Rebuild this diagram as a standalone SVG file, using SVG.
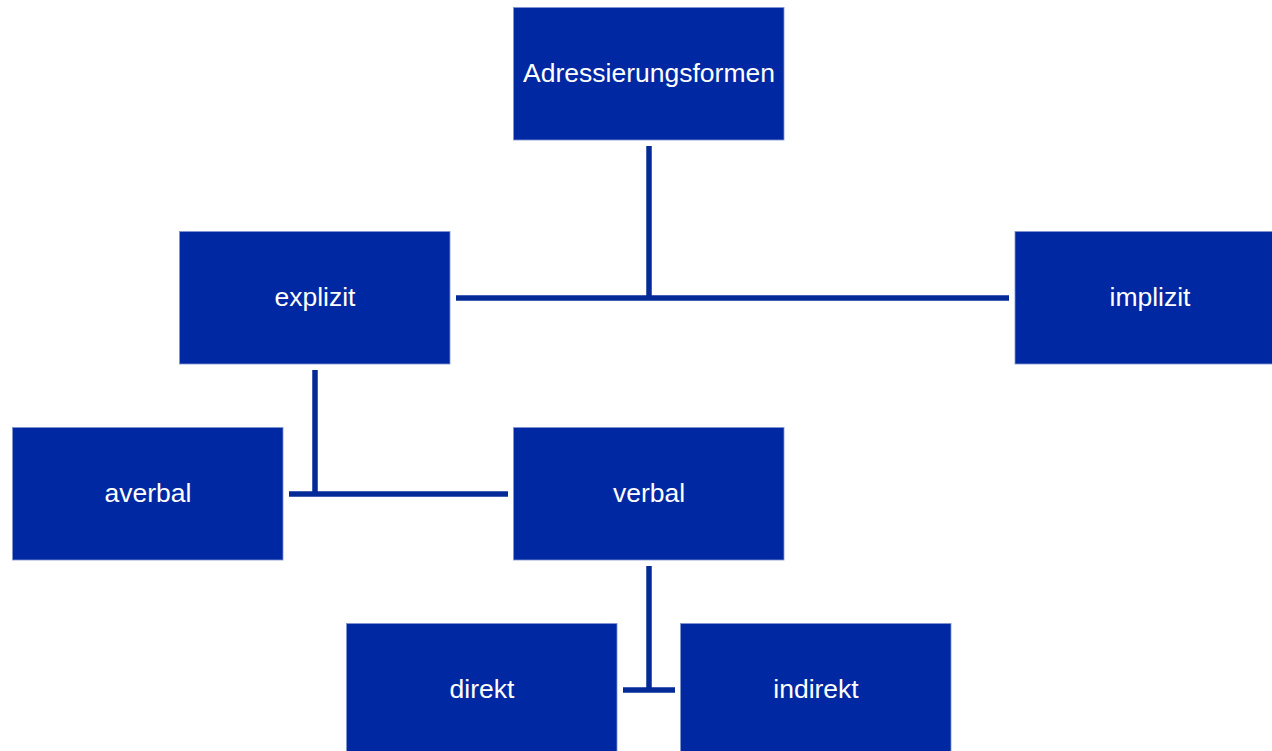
<svg xmlns="http://www.w3.org/2000/svg" width="1272" height="751" viewBox="0 0 1272 751">
<style>
.box{fill:#0028A2;stroke:#7F95D2;stroke-width:0.8}
.lbl{font-family:"Liberation Sans",Arial,sans-serif;font-size:26.5px;fill:#FFFFFF;text-anchor:middle}
.con{stroke:#032A96;stroke-width:5.5;fill:none}
</style>
<rect width="1272" height="751" fill="#FFFFFF"/>
<g id="connectors">
<line class="con" x1="649" y1="146" x2="649" y2="298"/>
<line class="con" x1="456" y1="298" x2="1009" y2="298"/>
<line class="con" x1="315" y1="370" x2="315" y2="494"/>
<line class="con" x1="289" y1="494" x2="508" y2="494"/>
<line class="con" x1="649" y1="566" x2="649" y2="690"/>
<line class="con" x1="623" y1="690" x2="675" y2="690"/>
</g>
<g id="node-adressierungsformen">
<rect class="box" x="513.5" y="7.5" width="270.5" height="132.5"/>
<text class="lbl" x="649" y="82">Adressierungsformen</text>
</g>
<g id="node-explizit">
<rect class="box" x="179.5" y="231.5" width="270.5" height="132.5"/>
<text class="lbl" x="315" y="306">explizit</text>
</g>
<g id="node-implizit">
<rect class="box" x="1015" y="231.5" width="260" height="132.5"/>
<text class="lbl" x="1150" y="306">implizit</text>
</g>
<g id="node-averbal">
<rect class="box" x="12.5" y="427.5" width="270.5" height="132.5"/>
<text class="lbl" x="148" y="502">averbal</text>
</g>
<g id="node-verbal">
<rect class="box" x="513.5" y="427.5" width="270.5" height="132.5"/>
<text class="lbl" x="649" y="502">verbal</text>
</g>
<g id="node-direkt">
<rect class="box" x="346.5" y="623.5" width="270.5" height="132.5"/>
<text class="lbl" x="482" y="698">direkt</text>
</g>
<g id="node-indirekt">
<rect class="box" x="680.5" y="623.5" width="270.5" height="132.5"/>
<text class="lbl" x="816" y="698">indirekt</text>
</g>
</svg>
